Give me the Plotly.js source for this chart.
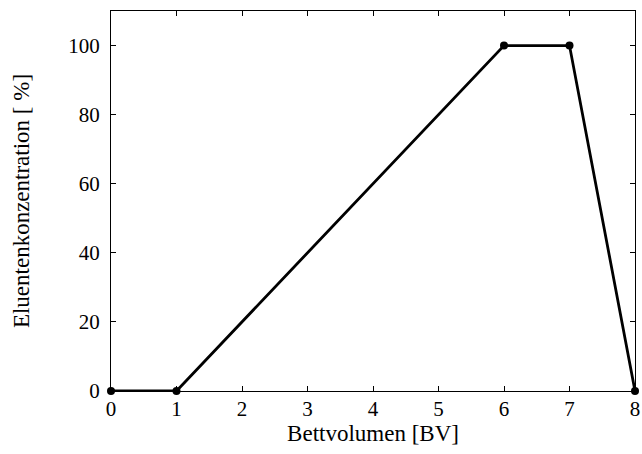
<!DOCTYPE html>
<html>
<head>
<meta charset="utf-8">
<script src="https://cdn.plot.ly/plotly-3.0.1.min.js"></script>
<style>html,body{margin:0;padding:0;background:#fff;}#chart{width:642px;height:454px;}</style>
</head>
<body>
<div id="chart"></div>
<script>
const bedVolumes = [0, 1, 6, 7, 8];
const eluentConcentration = [0, 0, 100, 100, 0];
const xTicks = [0, 1, 2, 3, 4, 5, 6, 7, 8];
const yTicks = [0, 20, 40, 60, 80, 100];

const tickFont = {family: "Liberation Serif, DejaVu Serif, serif", size: 21, color: "#000"};
const titleFont = {family: "Liberation Serif, DejaVu Serif, serif", size: 23, color: "#000"};

const axisCommon = {
  showgrid: false,
  zeroline: false,
  showline: true,
  linecolor: "#000",
  linewidth: 1,
  mirror: "allticks",
  ticks: "inside",
  ticklen: 5,
  tickwidth: 1,
  tickcolor: "#000",
  tickfont: tickFont
};

const data = [{
  x: bedVolumes,
  y: eluentConcentration,
  type: "scatter",
  mode: "lines+markers",
  line: {color: "#000", width: 2.8},
  marker: {color: "#000", size: 8},
  cliponaxis: false,
  showlegend: false
}];

const layout = {
  width: 642,
  height: 454,
  margin: {l: 111, r: 7, t: 11, b: 63},
  paper_bgcolor: "#fff",
  plot_bgcolor: "#fff",
  font: tickFont,
  xaxis: Object.assign({}, axisCommon, {
    range: [0, 8],
    tickvals: xTicks,
    ticktext: xTicks.map(String),
    ticklabelstandoff: -1,
    title: {text: "Bettvolumen [BV]", font: titleFont, standoff: 1}
  }),
  yaxis: Object.assign({}, axisCommon, {
    range: [0, 110],
    tickvals: yTicks,
    ticktext: yTicks.map(String),
    ticklabelstandoff: 6,
    title: {text: "Eluentenkonzentration [ %]", font: titleFont, standoff: 32}
  })
};

Plotly.newPlot("chart", data, layout, {displayModeBar: false, staticPlot: true});
</script>
</body>
</html>
